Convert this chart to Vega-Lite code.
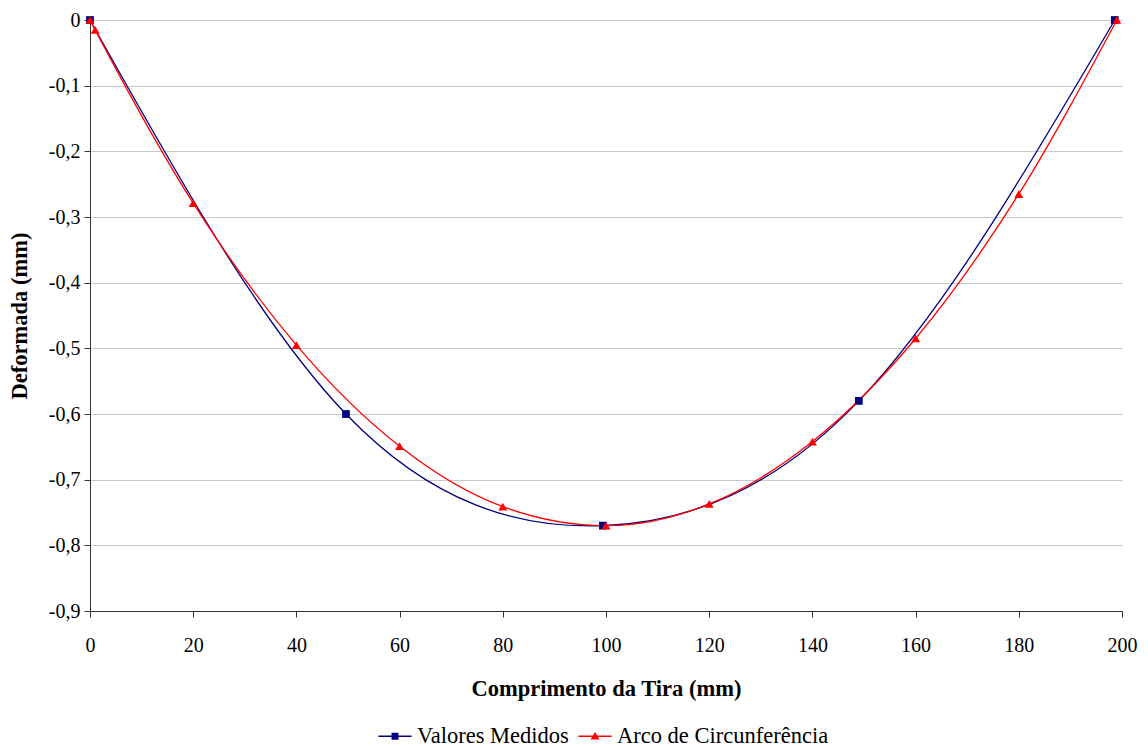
{
  "$schema": "https://vega.github.io/schema/vega-lite/v6.json",
  "width": 1032,
  "height": 591,
  "autosize": "none",
  "padding": {"left": 90, "top": 20, "right": 26, "bottom": 136},
  "background": "white",
  "config": {
    "view": {"stroke": null},
    "font": "'Liberation Serif', 'Times New Roman', Times, serif"
  },
  "data": {
    "values": [
      {"x": 0, "y": 0, "serie": "Valores Medidos"},
      {"x": 49.6, "y": -0.6, "serie": "Valores Medidos"},
      {"x": 99.4, "y": -0.77, "serie": "Valores Medidos"},
      {"x": 149, "y": -0.58, "serie": "Valores Medidos"},
      {"x": 198.6, "y": 0, "serie": "Valores Medidos"},
      {"x": 0, "y": 0, "serie": "Arco de Circunferência"},
      {"x": 1, "y": -0.015, "serie": "Arco de Circunferência"},
      {"x": 20, "y": -0.279, "serie": "Arco de Circunferência"},
      {"x": 40, "y": -0.495, "serie": "Arco de Circunferência"},
      {"x": 60, "y": -0.649, "serie": "Arco de Circunferência"},
      {"x": 80, "y": -0.741, "serie": "Arco de Circunferência"},
      {"x": 100, "y": -0.77, "serie": "Arco de Circunferência"},
      {"x": 120, "y": -0.737, "serie": "Arco de Circunferência"},
      {"x": 140, "y": -0.642, "serie": "Arco de Circunferência"},
      {"x": 160, "y": -0.485, "serie": "Arco de Circunferência"},
      {"x": 180, "y": -0.265, "serie": "Arco de Circunferência"},
      {"x": 199, "y": 0, "serie": "Arco de Circunferência"}
    ]
  },
  "encoding": {
    "x": {
      "field": "x", "type": "quantitative",
      "scale": {"domain": [0, 200], "nice": false, "zero": false},
      "axis": {
        "title": "Comprimento da Tira (mm)",
        "values": [0, 20, 40, 60, 80, 100, 120, 140, 160, 180, 200],
        "grid": false,
        "domainColor": "#333333", "tickColor": "#333333",
        "tickSize": 6,
        "labelFont": "'Liberation Serif', 'Times New Roman', Times, serif", "labelFontSize": 20, "labelColor": "#000000",
        "labelPadding": 18, "labelFlush": false,
        "titleFont": "'Liberation Serif', 'Times New Roman', Times, serif", "titleFontSize": 22.5, "titleFontWeight": "bold", "titleColor": "#000000",
        "titlePadding": 22
      }
    },
    "y": {
      "field": "y", "type": "quantitative",
      "scale": {"domain": [-0.9, 0], "nice": false, "zero": false},
      "axis": {
        "title": "Deformada (mm)",
        "values": [0, -0.1, -0.2, -0.3, -0.4, -0.5, -0.6, -0.7, -0.8, -0.9],
        "labelExpr": "datum.value == 0 ? '0' : '-0,' + round(-datum.value * 10)",
        "grid": true, "gridColor": "#c8c8c8", "gridWidth": 1,
        "domainColor": "#333333", "tickColor": "#333333",
        "tickSize": 6,
        "labelFont": "'Liberation Serif', 'Times New Roman', Times, serif", "labelFontSize": 20, "labelColor": "#000000",
        "labelPadding": 4, "labelFlush": false,
        "titleFont": "'Liberation Serif', 'Times New Roman', Times, serif", "titleFontSize": 22.5, "titleFontWeight": "bold", "titleColor": "#000000",
        "titlePadding": 17
      }
    },
    "color": {
      "field": "serie", "type": "nominal",
      "scale": {"domain": ["Valores Medidos", "Arco de Circunferência"], "range": ["#000080", "#ff0000"]},
      "legend": {
        "orient": "none", "legendX": 288, "legendY": 699,
        "direction": "horizontal", "title": null,
        "labelFont": "'Liberation Serif', 'Times New Roman', Times, serif", "labelFontSize": 22.5, "labelColor": "#000000",
        "symbolSize": 1100, "symbolStrokeWidth": 0, "labelOffset": 5, "columnPadding": 9,
        "labelLimit": 400,
        "encode": {
          "symbols": {
            "update": {
              "shape": {"signal": "datum.value == 'Valores Medidos' ? 'M-1,-0.045L1,-0.045L1,0.045L-1,0.045ZM-0.21,-0.21L0.21,-0.21L0.21,0.21L-0.21,0.21Z' : 'M-1,-0.045L1,-0.045L1,0.045L-1,0.045ZM0,-0.25L0.27,0.2L-0.27,0.2Z'"},
              "fill": {"signal": "datum.value == 'Valores Medidos' ? '#000080' : '#ff0000'"},
              "fillOpacity": {"value": 1},
              "opacity": {"value": 1}
            }
          }
        }
      }
    }
  },
  "layer": [
    {
      "transform": [{"filter": "datum.serie == 'Valores Medidos'"}],
      "mark": {"type": "line", "interpolate": "natural", "strokeWidth": 1.3}
    },
    {
      "transform": [{"filter": "datum.serie == 'Arco de Circunferência'"}],
      "mark": {"type": "line", "interpolate": "monotone", "strokeWidth": 1.3}
    },
    {
      "transform": [{"filter": "datum.serie == 'Valores Medidos'"}],
      "mark": {"type": "point", "filled": true, "opacity": 1, "shape": "square", "size": 60}
    },
    {
      "transform": [{"filter": "datum.serie == 'Arco de Circunferência'"}],
      "mark": {"type": "point", "filled": true, "opacity": 1, "shape": "triangle-up", "size": 80}
    }
  ]
}
